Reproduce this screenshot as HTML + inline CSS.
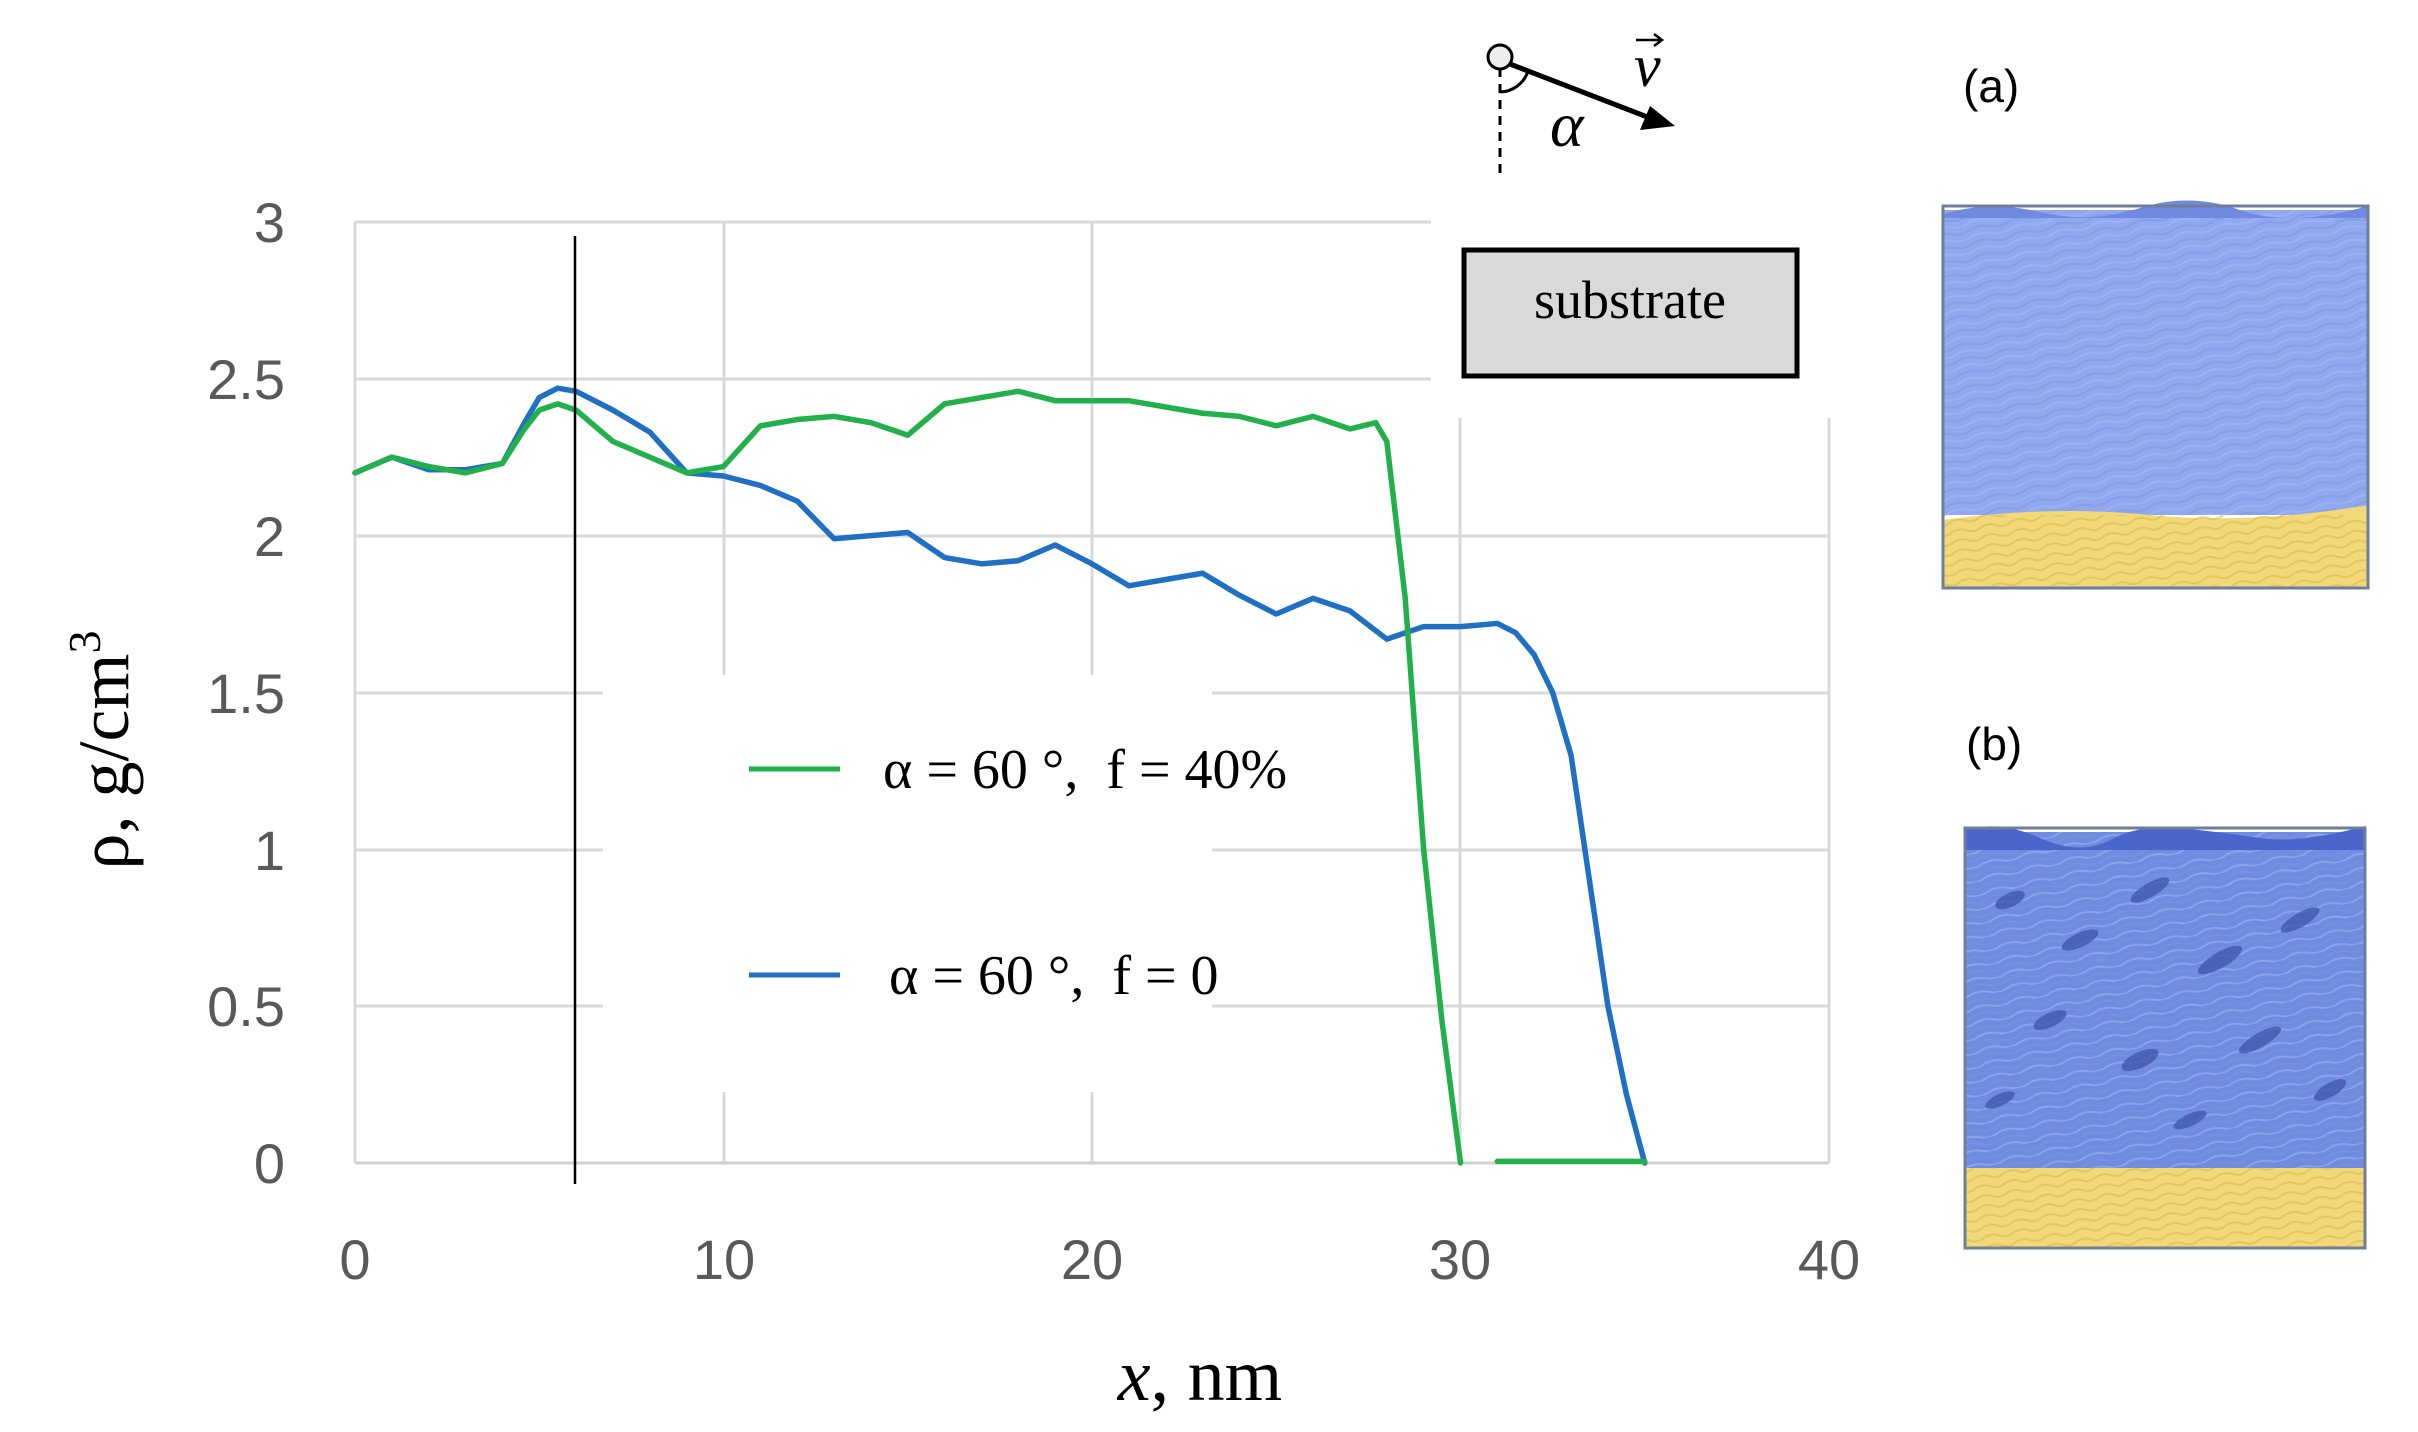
<!DOCTYPE html>
<html><head><meta charset="utf-8"><style>
html,body{margin:0;padding:0;background:#fff;}
svg{display:block;}
</style></head><body>
<svg width="2418" height="1432" viewBox="0 0 2418 1432" xmlns="http://www.w3.org/2000/svg">
<defs>
<pattern id="tex" width="40" height="14" patternUnits="userSpaceOnUse" patternTransform="rotate(-12)">
<rect width="40" height="14" fill="none"/>
<path d="M0 4 Q10 1 20 5 T40 4" stroke="#7d93e0" stroke-width="2" fill="none" opacity="0.5"/>
<path d="M0 11 Q10 8 20 12 T40 11" stroke="#a9bcf5" stroke-width="2" fill="none" opacity="0.5"/>
</pattern>
<pattern id="ytex" width="30" height="10" patternUnits="userSpaceOnUse" patternTransform="rotate(-10)">
<path d="M0 3 Q8 0 15 4 T30 3" stroke="#d9b94d" stroke-width="2" fill="none" opacity="0.6"/>
</pattern>
</defs>
<g stroke="#d9d9d9" stroke-width="3">
<line x1="355" y1="222" x2="1829" y2="222"/>
<line x1="355" y1="379" x2="1829" y2="379"/>
<line x1="355" y1="536" x2="1829" y2="536"/>
<line x1="355" y1="693" x2="1829" y2="693"/>
<line x1="355" y1="850" x2="1829" y2="850"/>
<line x1="355" y1="1006" x2="1829" y2="1006"/>
<line x1="724" y1="222" x2="724" y2="1163"/>
<line x1="1092" y1="222" x2="1092" y2="1163"/>
<line x1="1460" y1="222" x2="1460" y2="1163"/>
<line x1="1829" y1="222" x2="1829" y2="1163"/>
</g>
<rect x="603" y="675" width="609" height="417" fill="#fff"/>
<rect x="1431" y="200" width="420" height="218" fill="#fff"/>
<line x1="355" y1="222" x2="355" y2="1163" stroke="#d9d9d9" stroke-width="3"/>
<line x1="355" y1="1163" x2="1829" y2="1163" stroke="#d0d0d0" stroke-width="3"/>
<g font-family="Liberation Sans, sans-serif" font-size="56" fill="#595959" text-anchor="end">
<text x="285" y="242">3</text>
<text x="285" y="399">2.5</text>
<text x="285" y="556">2</text>
<text x="285" y="713">1.5</text>
<text x="285" y="870">1</text>
<text x="285" y="1026">0.5</text>
<text x="285" y="1183">0</text>
</g>
<g font-family="Liberation Sans, sans-serif" font-size="56" fill="#595959" text-anchor="middle">
<text x="355" y="1279">0</text>
<text x="724" y="1279">10</text>
<text x="1092" y="1279">20</text>
<text x="1460" y="1279">30</text>
<text x="1829" y="1279">40</text>
</g>
<text transform="translate(128,750) rotate(-90)" font-family="Liberation Serif, serif" font-size="72" text-anchor="middle" fill="#000">ρ, g/cm<tspan dy="-28" font-size="46">3</tspan></text>
<text x="1200" y="1400" font-family="Liberation Serif, serif" font-size="74" text-anchor="middle" fill="#000"><tspan font-style="italic">x</tspan>, nm</text>
<g transform="translate(355,1163) scale(36.85,-313.7)" fill="none" stroke-linejoin="round" stroke-linecap="round">
<polyline vector-effect="non-scaling-stroke" stroke-width="5.5" stroke="#1f6fc4" points="0,2.2 1,2.25 2,2.21 3,2.21 4,2.23 4.6,2.36 5,2.44 5.5,2.47 6,2.46 7,2.4 8,2.33 9,2.2 10,2.19 11,2.16 12,2.11 13,1.99 14,2.0 15,2.01 16,1.93 17,1.91 18,1.92 19,1.97 20,1.91 21,1.84 22,1.86 23,1.88 24,1.81 25,1.75 26,1.8 27,1.76 28,1.67 29,1.71 30,1.71 31,1.72 31.5,1.69 32,1.62 32.5,1.5 33,1.3 33.5,0.9 34,0.5 34.5,0.22 35,0"/>
<polyline vector-effect="non-scaling-stroke" stroke-width="5.5" stroke="#22b04a" points="0,2.2 1,2.25 2,2.22 3,2.2 4,2.23 4.6,2.34 5,2.4 5.5,2.42 6,2.4 7,2.3 8,2.25 9,2.2 10,2.22 11,2.35 12,2.37 13,2.38 14,2.36 15,2.32 16,2.42 17,2.44 18,2.46 19,2.43 20,2.43 21,2.43 22,2.41 23,2.39 24,2.38 25,2.35 26,2.38 27,2.34 27.7,2.36 28,2.3 28.5,1.8 29,1.0 29.5,0.45 30,0"/>
<polyline vector-effect="non-scaling-stroke" stroke-width="5.5" stroke="#22b04a" points="31,0.005 35,0.005"/>
</g>
<line x1="575" y1="236" x2="575" y2="1184" stroke="#000" stroke-width="2.5"/>
<line x1="749" y1="769" x2="840" y2="769" stroke="#22b04a" stroke-width="5"/>
<text x="883" y="788" font-family="Liberation Serif, serif" font-size="56" fill="#000" xml:space="preserve">α = 60 °,  f = 40%</text>
<line x1="749" y1="975" x2="840" y2="975" stroke="#1f6fc4" stroke-width="5"/>
<text x="889" y="994" font-family="Liberation Serif, serif" font-size="56" fill="#000" xml:space="preserve">α = 60 °,  f = 0</text>
<rect x="1464" y="250" width="333" height="126" fill="#d9d9d9" stroke="#000" stroke-width="5"/>
<text x="1630" y="318" font-family="Liberation Serif, serif" font-size="54" text-anchor="middle" fill="#000">substrate</text>
<line x1="1500" y1="68" x2="1500" y2="176" stroke="#000" stroke-width="3" stroke-dasharray="9,7"/>
<line x1="1510" y1="64" x2="1650" y2="118" stroke="#000" stroke-width="5"/>
<polygon points="1675,126 1640,130 1650,106" fill="#000"/>
<circle cx="1500" cy="57" r="12" fill="#eee" stroke="#000" stroke-width="3"/>
<path d="M1500 92 A 30 30 0 0 0 1528 71" fill="none" stroke="#000" stroke-width="3"/>
<text x="1550" y="146" font-family="Liberation Serif, serif" font-size="64" font-style="italic" fill="#000">α</text>
<text x="1634" y="86" font-family="Liberation Serif, serif" font-size="60" font-style="italic" fill="#000">v</text>
<path d="M1636 40 L1660 40 M1654 34 L1662 40 L1654 46" stroke="#000" stroke-width="2.5" fill="none"/>
<text x="1963" y="102" font-family="Liberation Sans, sans-serif" font-size="46" fill="#000">(a)</text>
<rect x="1943" y="210" width="425" height="305" fill="#8fa8ef"/>
<rect x="1943" y="210" width="425" height="305" fill="url(#tex)"/>
<path d="M1943 214 Q1990 200 2040 212 T2140 208 T2240 210 T2368 206 L2368 218 L1943 218Z" fill="#6f8ae0"/>
<path d="M1943 520 Q2050 505 2150 515 T2368 505 L2368 588 L1943 588Z" fill="#f2d878"/>
<rect x="1943" y="515" width="425" height="73" fill="url(#ytex)"/>
<rect x="1943" y="206" width="425" height="382" fill="none" stroke="#6f7f99" stroke-width="3"/>
<text x="1966" y="760" font-family="Liberation Sans, sans-serif" font-size="46" fill="#000">(b)</text>
<rect x="1965" y="832" width="400" height="340" fill="#6f8ce0"/>
<rect x="1965" y="832" width="400" height="340" fill="url(#tex)"/>
<path d="M1965 830 Q2000 820 2040 838 T2110 840 T2180 828 T2260 838 T2365 826 L2365 850 L1965 850Z" fill="#4a66cc"/>
<g fill="#3f55a8" opacity="0.75">
<ellipse cx="2010" cy="900" rx="16" ry="7" transform="rotate(-25 2010 900)"/>
<ellipse cx="2080" cy="940" rx="20" ry="7" transform="rotate(-25 2080 940)"/>
<ellipse cx="2150" cy="890" rx="22" ry="7" transform="rotate(-30 2150 890)"/>
<ellipse cx="2220" cy="960" rx="25" ry="8" transform="rotate(-30 2220 960)"/>
<ellipse cx="2300" cy="920" rx="22" ry="7" transform="rotate(-30 2300 920)"/>
<ellipse cx="2050" cy="1020" rx="18" ry="7" transform="rotate(-25 2050 1020)"/>
<ellipse cx="2140" cy="1060" rx="20" ry="8" transform="rotate(-25 2140 1060)"/>
<ellipse cx="2260" cy="1040" rx="24" ry="7" transform="rotate(-30 2260 1040)"/>
<ellipse cx="2330" cy="1090" rx="18" ry="7" transform="rotate(-30 2330 1090)"/>
<ellipse cx="2000" cy="1100" rx="16" ry="6" transform="rotate(-25 2000 1100)"/>
<ellipse cx="2190" cy="1120" rx="18" ry="6" transform="rotate(-25 2190 1120)"/>
</g>
<rect x="1965" y="1168" width="400" height="80" fill="#f2d878"/>
<rect x="1965" y="1168" width="400" height="80" fill="url(#ytex)"/>
<rect x="1965" y="828" width="400" height="420" fill="none" stroke="#6f7f99" stroke-width="3"/>
</svg>
</body></html>
